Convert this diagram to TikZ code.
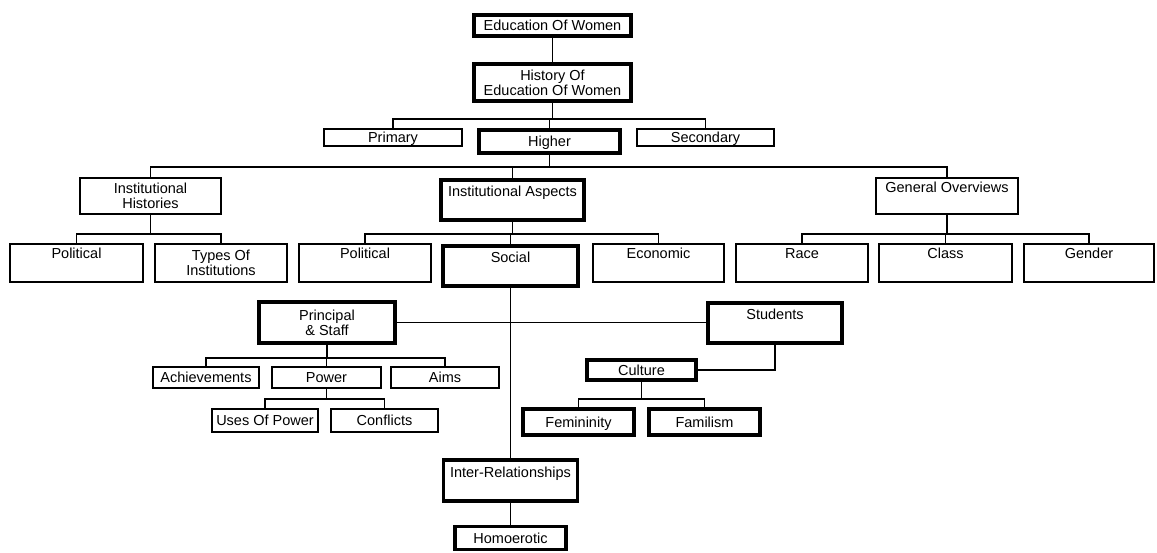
\documentclass[tikz,border=0pt]{standalone}
\usepackage{fontspec}
\setmainfont{Liberation Sans}

\begin{document}
\begin{tikzpicture}[x=1pt, y=-1pt, font=\fontsize{14.5}{15}\selectfont,
	cell/.style={draw, line width=1.7pt, inner sep=0pt, align=center},
	heavy/.style={cell, line width=3.8pt},
	dims/.style 2 args={minimum width=#1pt, minimum height=#2pt},
	lifted/.style 2 args={text height=#1pt, text depth=#2pt},
	oneline/.style={text height=10.4pt, text depth=0pt},
	wire/.style={line width=1.7pt}]
	\useasboundingbox (0,0) rectangle (1157,553);
	% top of the tree
	\node[heavy, dims={157}{21}, oneline] (edu) at (552.5,25.5) {Education Of Women};
	\node[heavy, dims={157}{37}] (hist) at (552.5,82.5) {History Of\\Education Of Women};
	\node[cell, dims={138.5}{17.5}, oneline] (primary) at (393,137.5) {Primary};
	\node[heavy, dims={141}{23}, oneline] (higher) at (549.5,141.5) {Higher};
	\node[cell, dims={137.5}{17.5}, oneline] (secondary) at (705.5,137.5) {Secondary};
	% second level
	\node[cell, dims={141.5}{36.5}] (insthist) at (150.5,196) {Institutional\\Histories};
	\node[heavy, dims={143}{40}, lifted={17}{23}] (instasp) at (512.5,200) {Institutional Aspects};
	\node[cell, dims={142.5}{36.5}, lifted={15}{21.5}] (overview) at (947,196) {General Overviews};
	% third level
	\node[cell, dims={133.5}{38.5}, lifted={15}{23.5}] (polhist) at (76.5,263) {Political};
	\node[cell, dims={132.5}{38.5}] (types) at (221,263) {Types Of\\Institutions};
	\node[cell, dims={132.5}{38.5}, lifted={15}{23.5}] (polasp) at (365,263) {Political};
	\node[heavy, dims={135}{40}, lifted={17}{23}] (social) at (510.5,266) {Social};
	\node[cell, dims={131.5}{38.5}, lifted={15}{23.5}] (economic) at (658.5,263) {Economic};
	\node[cell, dims={132.5}{38.5}, lifted={15}{23.5}] (race) at (802,263) {Race};
	\node[cell, dims={133.5}{38.5}, lifted={15}{23.5}] (class) at (945.5,263) {Class};
	\node[cell, dims={130.5}{38.5}, lifted={15}{23.5}] (gender) at (1089,263) {Gender};
	% below social
	\node[heavy, dims={136}{41}] (principal) at (327,322.5) {Principal\\\& Staff};
	\node[heavy, dims={134}{40}, lifted={17}{23}] (students) at (775,323) {Students};
	\node[cell, dims={106.5}{21.5}, oneline] (achieve) at (206,377.5) {Achievements};
	\node[cell, dims={109.5}{21.5}, oneline] (power) at (326.5,377.5) {Power};
	\node[cell, dims={108.5}{21.5}, oneline] (aims) at (445,377.5) {Aims};
	\node[cell, dims={106.5}{23.5}, oneline] (usespower) at (265,420.5) {Uses Of Power};
	\node[cell, dims={107.5}{23.5}, oneline] (conflicts) at (384.5,420.5) {Conflicts};
	\node[heavy, dims={109}{20}, oneline] (culture) at (641.5,370) {Culture};
	\node[heavy, dims={111}{26}, oneline] (feminine) at (578.5,422) {Femininity};
	\node[heavy, dims={111}{26}, oneline] (familism) at (704.5,422) {Familism};
	\node[heavy, dims={134}{41}, lifted={17.5}{23.5}] (inter) at (510.5,480.5) {Inter-Relationships};
	\node[heavy, dims={111}{23}, oneline] (homo) at (510.5,538) {Homoerotic};
	% connectors
	\draw[wire] (edu) -- (hist);
	\draw[wire] (hist.south) -- ++(0,16) coordinate (histbus);
	\draw[wire] (primary.north) |- (histbus) -| (secondary.north);
	\draw[wire] (histbus -| higher.north) -- (higher.north);
	\draw[wire] (higher.south) -- ++(0,12) coordinate (mainbus);
	\draw[wire] (insthist.north) |- (mainbus) -| (overview.north);
	\draw[wire] (mainbus -| instasp.north) -- (instasp.north);
	\draw[wire] (insthist.south) -- ++(0,19) coordinate (ihbus);
	\draw[wire] (polhist.north) |- (ihbus) -| (types.north);
	\draw[wire] (instasp.south) -- ++(0,12) coordinate (iabus);
	\draw[wire] (polasp.north) |- (iabus) -| (economic.north);
	\draw[wire] (iabus -| social.north) -- (social.north);
	\draw[wire] (overview.south) -- ++(0,19) coordinate (gobus);
	\draw[wire] (race.north) |- (gobus) -| (gender.north);
	\draw[wire] (gobus -| class.north) -- (class.north);
	\draw[wire] (social) -- (inter);
	\draw[wire] (principal.east) -- (principal.east -| students.west);
	\draw[wire] (principal.south) -- ++(0,13) coordinate (psbus);
	\draw[wire] (achieve.north) |- (psbus) -| (aims.north);
	\draw[wire] (psbus -| power.north) -- (power.north);
	\draw[wire] (power.south) -- ++(0,10) coordinate (pwbus);
	\draw[wire] (usespower.north) |- (pwbus) -| (conflicts.north);
	\draw[wire] (students.south) |- (culture.east);
	\draw[wire] (culture.south) -- ++(0,17) coordinate (culbus);
	\draw[wire] (feminine.north) |- (culbus) -| (familism.north);
	\draw[wire] (inter) -- (homo);
\end{tikzpicture}
\end{document}
